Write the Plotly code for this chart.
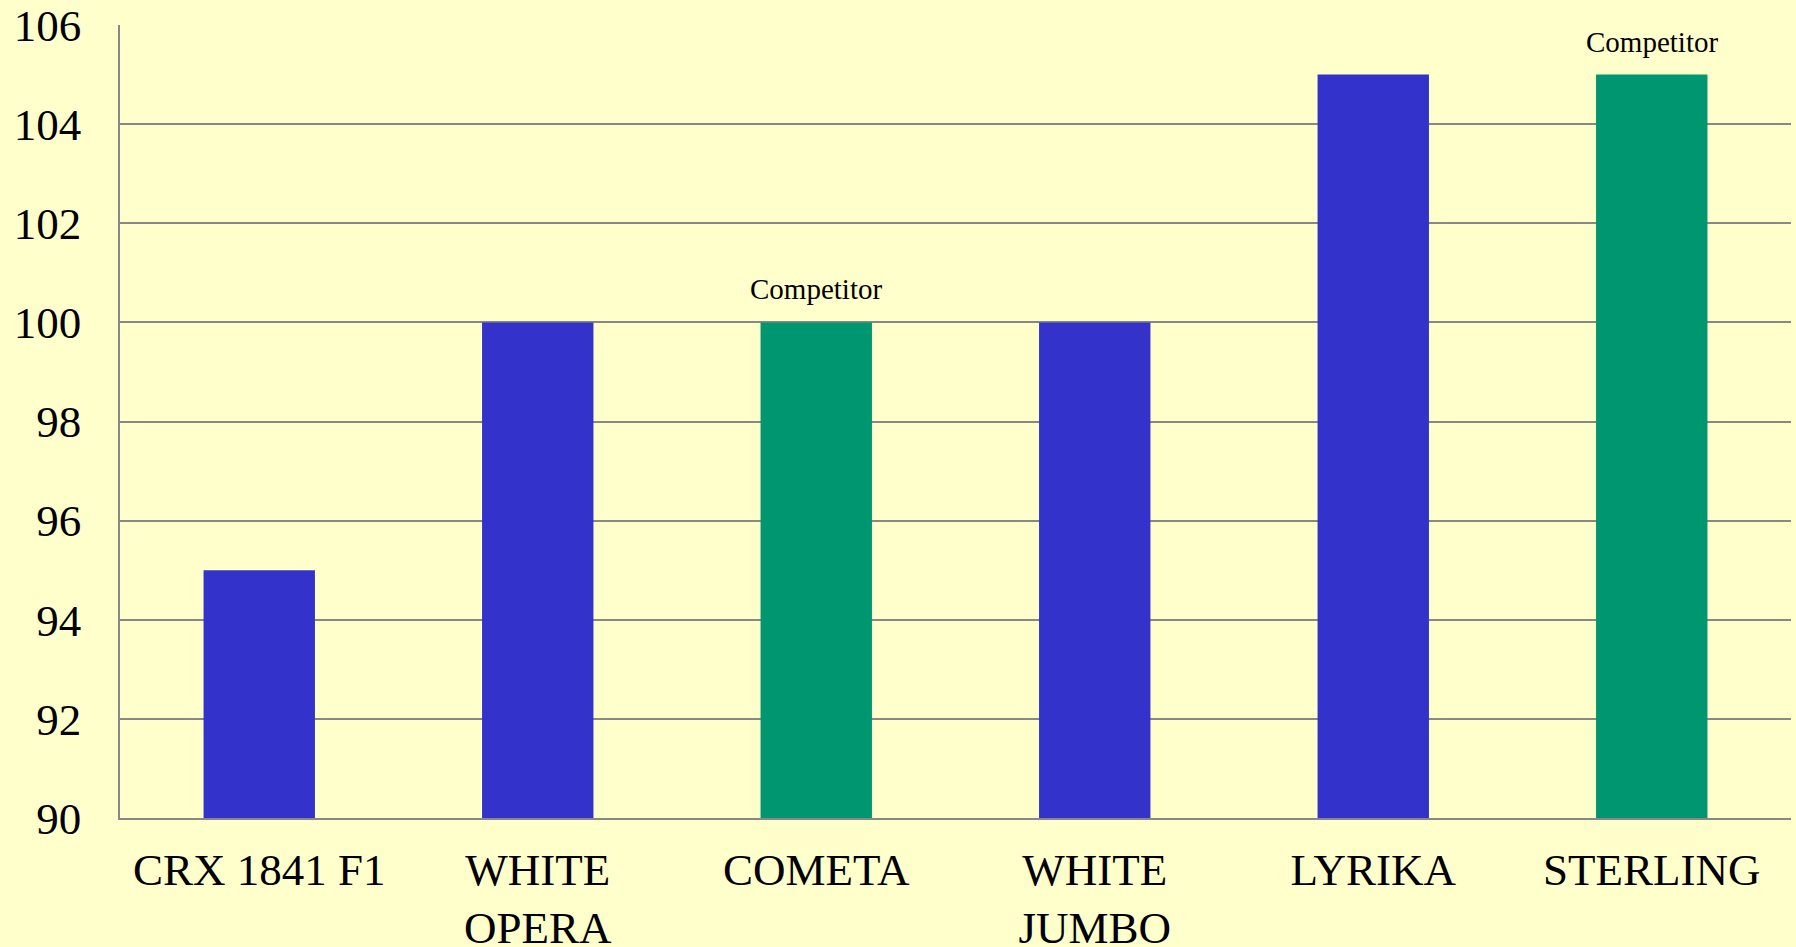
import plotly.graph_objects as go

categories = ["CRX 1841 F1", "WHITE<br>OPERA", "COMETA", "WHITE<br>JUMBO", "LYRIKA", "STERLING"]
values = [95, 100, 100, 100, 105, 105]
notes = ["", "", "Competitor", "", "", "Competitor"]
y_ticks = [90, 92, 94, 96, 98, 100, 102, 104, 106]

OWN = "#3333CC"
COMP = "#009670"
colors = [COMP if n else OWN for n in notes]

fig = go.Figure()
fig.add_trace(go.Bar(
    x=categories, y=values,
    marker=dict(color=colors, line=dict(width=0)),
    width=0.4,
    hoverinfo="x+y",
))

for c, v, n in zip(categories, values, notes):
    if n:
        fig.add_annotation(
            x=c, y=v, text=n, showarrow=False,
            yshift=33, xanchor="center", yanchor="middle",
            font=dict(family="Liberation Serif", size=29, color="#000000"),
        )

fig.update_layout(
    width=1796, height=947,
    margin=dict(l=120, r=5, t=25, b=129),
    paper_bgcolor="#FFFFCC",
    plot_bgcolor="#FFFFCC",
    showlegend=False,
    font=dict(family="Liberation Serif", color="#000000"),
)
fig.update_xaxes(
    showgrid=False, showline=True, linecolor="#888888", linewidth=1.5,
    tickfont=dict(family="Liberation Serif", size=45, color="#000000"),
    ticks="", ticklabelstandoff=11, automargin=False,
)
fig.update_yaxes(
    range=[90, 106], tickvals=y_ticks,
    showgrid=True, gridcolor="#888888", gridwidth=1.5,
    showline=True, linecolor="#888888", linewidth=1.5,
    zeroline=False, ticks="",
    tickfont=dict(family="Liberation Serif", size=45, color="#000000"),
    ticklabelstandoff=28, automargin=False,
)

fig.write_html("out.html", config={"displayModeBar": False},
               post_script="document.body.style.margin='0';document.body.style.overflow='hidden';")
